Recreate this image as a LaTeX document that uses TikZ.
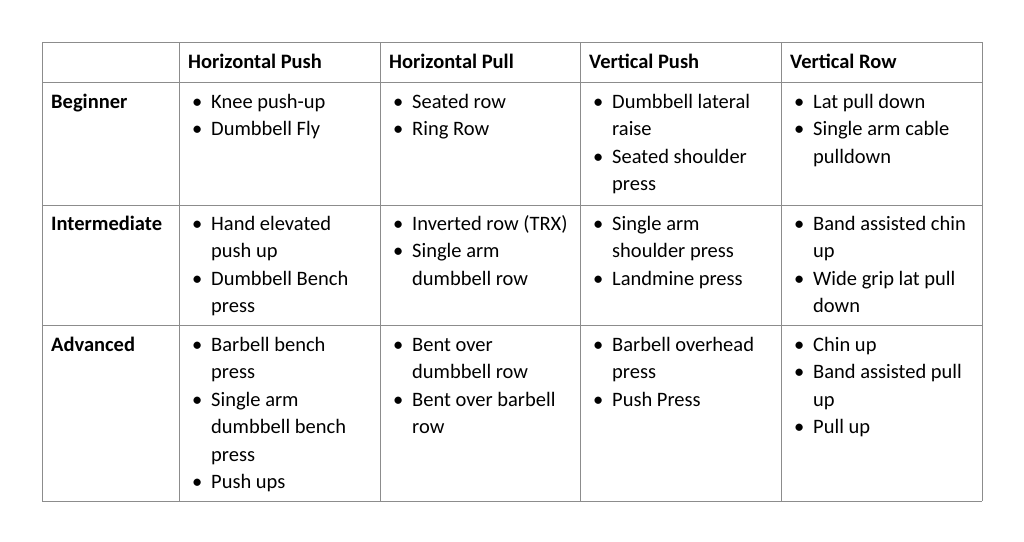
\documentclass[tikz,border=0pt]{standalone}
\usepackage{fontspec}
\setmainfont{Carlito}
\begin{document}
\begin{tikzpicture}[x=1pt,y=-1pt,
  txt/.style={anchor=base west,inner sep=0pt,font=\fontsize{20.5}{22}\selectfont},
  hd/.style={txt,font=\fontsize{20.5}{22}\selectfont\bfseries},
  grid/.style={draw=black!45,line width=0.8pt}]
\useasboundingbox (0,0) rectangle (1024,541);
\foreach \x in {42,179,380,580,781,982} \draw[grid] (\x,42) -- (\x,501);
\foreach \y in {42,82,205,325,501} \draw[grid] (42,\y) -- (982,\y);
% headers
\node[hd] (h1) at (188,68) {Horizontal Push};
\node[hd] (h2) at (389,68) {Horizontal Pull};
\node[hd] (h3) at (589,68) {Vertical Push};
\node[hd] (h4) at (790,68) {Vertical Row};
\node[hd] (r1) at (51,108) {Beginner};
\node[hd] (r2) at (51,230) {Intermediate};
\node[hd] (r3) at (51,351) {Advanced};
\newcommand{\cellline}[4]{% x, y, bullet(1/0), text
  \ifnum#3=1 \node[txt] at (#1+13,#2) {•};\fi
  \node[txt] at (#1+32,#2) {#4};}
% Beginner
\cellline{179}{108}{1}{Knee push-up}
\cellline{179}{135.5}{1}{Dumbbell Fly}
\cellline{380}{108}{1}{Seated row}
\cellline{380}{135.5}{1}{Ring Row}
\cellline{580}{108}{1}{Dumbbell lateral}
\cellline{580}{135.5}{0}{raise}
\cellline{580}{163}{1}{Seated shoulder}
\cellline{580}{190.5}{0}{press}
\cellline{781}{108}{1}{Lat pull down}
\cellline{781}{135.5}{1}{Single arm cable}
\cellline{781}{163}{0}{pulldown}
% Intermediate
\cellline{179}{230}{1}{Hand elevated}
\cellline{179}{257.5}{0}{push up}
\cellline{179}{285}{1}{Dumbbell Bench}
\cellline{179}{312.5}{0}{press}
\cellline{380}{230}{1}{Inverted row (TRX)}
\cellline{380}{257.5}{1}{Single arm}
\cellline{380}{285}{0}{dumbbell row}
\cellline{580}{230}{1}{Single arm}
\cellline{580}{257.5}{0}{shoulder press}
\cellline{580}{285}{1}{Landmine press}
\cellline{781}{230}{1}{Band assisted chin}
\cellline{781}{257.5}{0}{up}
\cellline{781}{285}{1}{Wide grip lat pull}
\cellline{781}{312.5}{0}{down}
% Advanced
\cellline{179}{351}{1}{Barbell bench}
\cellline{179}{378.5}{0}{press}
\cellline{179}{406}{1}{Single arm}
\cellline{179}{433.5}{0}{dumbbell bench}
\cellline{179}{461}{0}{press}
\cellline{179}{488.5}{1}{Push ups}
\cellline{380}{351}{1}{Bent over}
\cellline{380}{378.5}{0}{dumbbell row}
\cellline{380}{406}{1}{Bent over barbell}
\cellline{380}{433.5}{0}{row}
\cellline{580}{351}{1}{Barbell overhead}
\cellline{580}{378.5}{0}{press}
\cellline{580}{406}{1}{Push Press}
\cellline{781}{351}{1}{Chin up}
\cellline{781}{378.5}{1}{Band assisted pull}
\cellline{781}{406}{0}{up}
\cellline{781}{433.5}{1}{Pull up}
\end{tikzpicture}
\end{document}
